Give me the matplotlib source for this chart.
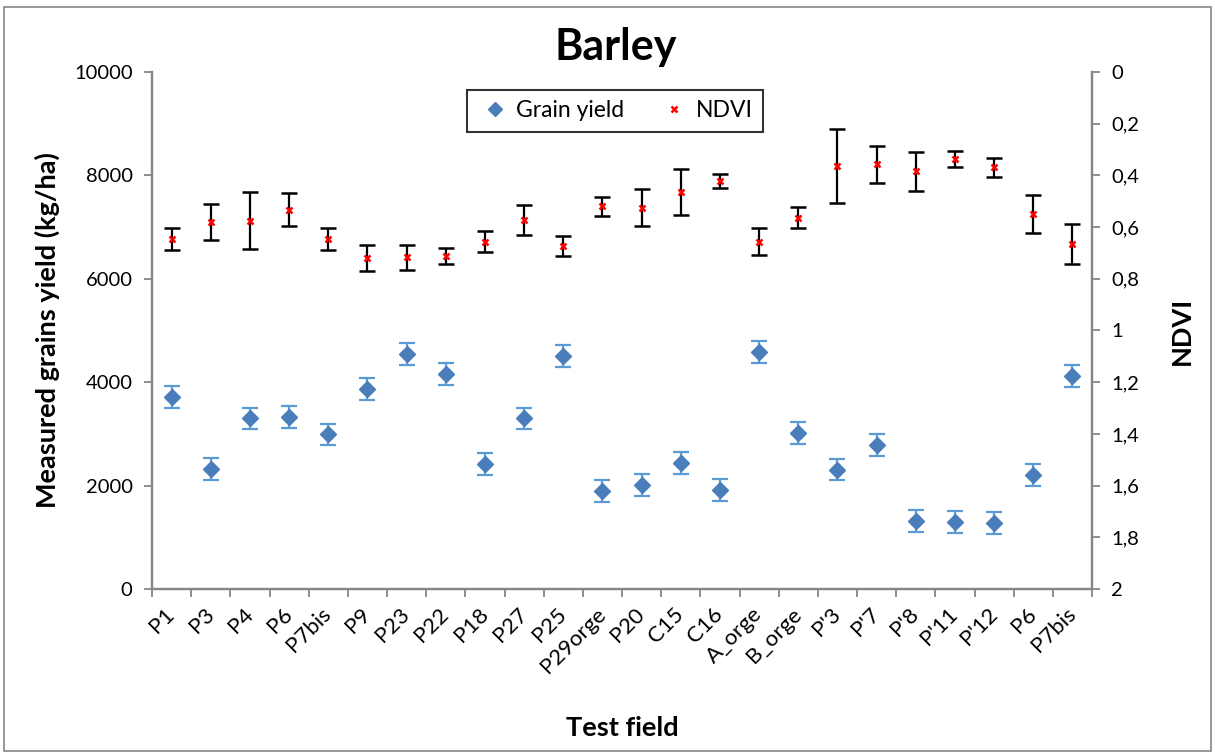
import matplotlib
matplotlib.use("Agg")
import matplotlib.pyplot as plt
from matplotlib.patches import Rectangle
from matplotlib.lines import Line2D
import numpy as np

plt.rcParams['font.family'] = ['Lato', 'DejaVu Sans']

# test fields
fields = ["P1", "P3", "P4", "P6", "P7bis", "P9", "P23", "P22", "P18", "P27", "P25",
          "P29orge", "P20", "C15", "C16", "A_orge", "B_orge", "P'3", "P'7", "P'8",
          "P'11", "P'12", "P6", "P7bis"]

# measured grain yield (kg/ha) and its error
grain_yield = [3720, 2320, 3300, 3330, 2990, 3870, 4540, 4160, 2420, 3300, 4500,
               1895, 2005, 2440, 1920, 4580, 3015, 2310, 2790, 1320, 1295, 1270,
               2210, 4120]
grain_err = [210] * 24

# NDVI and its error
ndvi = [0.646, 0.580, 0.576, 0.533, 0.645, 0.720, 0.717, 0.711, 0.656, 0.573, 0.673,
        0.520, 0.525, 0.464, 0.423, 0.656, 0.564, 0.364, 0.357, 0.384, 0.337, 0.369,
        0.549, 0.664]
ndvi_err = [0.044, 0.071, 0.110, 0.063, 0.043, 0.050, 0.048, 0.030, 0.042, 0.058, 0.040,
            0.037, 0.072, 0.089, 0.027, 0.053, 0.041, 0.143, 0.071, 0.075, 0.030, 0.038,
            0.072, 0.077]

left_ticks = [0, 2000, 4000, 6000, 8000, 10000]
right_ticks = [0, 0.2, 0.4, 0.6, 0.8, 1, 1.2, 1.4, 1.6, 1.8, 2]
right_labels = ["0", "0,2", "0,4", "0,6", "0,8", "1", "1,2", "1,4", "1,6", "1,8", "2"]

fig = plt.figure(figsize=(12.15, 7.53), dpi=100)
ax = fig.add_axes([0.1251, 0.2178, 0.7737, 0.6866])
ax2 = ax.twinx()

x = np.arange(len(fields))
grey = "#868686"
blue = "#4A7EBB"

# grain yield (left axis)
ax.errorbar(x, grain_yield, yerr=grain_err, fmt="D", color=blue, ms=8,
            ecolor="#5B9BD5", elinewidth=1.6, capsize=6, capthick=1.6)

# NDVI (right axis, reversed)
ax2.errorbar(x, ndvi, yerr=ndvi_err, fmt="x", color="red", ms=4, mew=1.8,
             ecolor="black", elinewidth=1.6, capsize=6, capthick=1.6)

ax.set_xlim(-0.5, len(fields) - 0.5)
ax.set_ylim(0, 10000)
ax.set_yticks(left_ticks)
ax.set_xticks(np.arange(-0.5, len(fields), 1), minor=True)
ax.set_xticks(x)
ax.set_xticklabels(fields, rotation=45, ha="right", va="center",
                   rotation_mode="anchor", fontsize=16)
ax.tick_params(axis="x", which="major", length=0, pad=16)
ax.tick_params(axis="x", which="minor", length=6, color=grey, width=1.3)
ax.tick_params(axis="y", labelsize=14.5, length=6, color=grey, width=1.3, pad=8)

ax2.set_ylim(2, 0)
ax2.set_yticks(right_ticks)
ax2.set_yticklabels(right_labels)
ax2.tick_params(axis="y", labelsize=14.5, length=6, color=grey, width=1.3, pad=8)

for a in (ax, ax2):
    a.spines["top"].set_visible(False)
    for s in ("left", "right", "bottom"):
        a.spines[s].set_color(grey)
        a.spines[s].set_linewidth(1.6)

ax.set_ylabel("Measured grains yield (kg/ha)", fontsize=19.5, fontweight="bold", labelpad=10)
ax2.set_ylabel("NDVI", fontsize=19.5, fontweight="bold", labelpad=22)
ax.set_xlabel("Test field", fontsize=19.5, fontweight="bold", labelpad=28)
fig.text(0.507, 0.938, "Barley", fontsize=31, fontweight="bold", ha="center", va="center")

handles = [Line2D([], [], ls="none", marker="D", color=blue, ms=7),
           Line2D([], [], ls="none", marker="x", color="red", ms=4, mew=1.8)]
leg = ax.legend(handles, ["Grain yield", "NDVI"], loc="upper center",
                bbox_to_anchor=(0.4926, 0.987), ncol=2, fontsize=16.5, frameon=True,
                fancybox=False, edgecolor="black", handletextpad=0.2, handlelength=1.5,
                columnspacing=1.4, borderpad=0.45)
leg.get_frame().set_linewidth(1.5)

fig.patches.append(Rectangle((0.003, 0.003), 0.994, 0.988, transform=fig.transFigure,
                             fill=False, edgecolor=grey, linewidth=1.2))

fig.savefig("out.png", dpi=100)
